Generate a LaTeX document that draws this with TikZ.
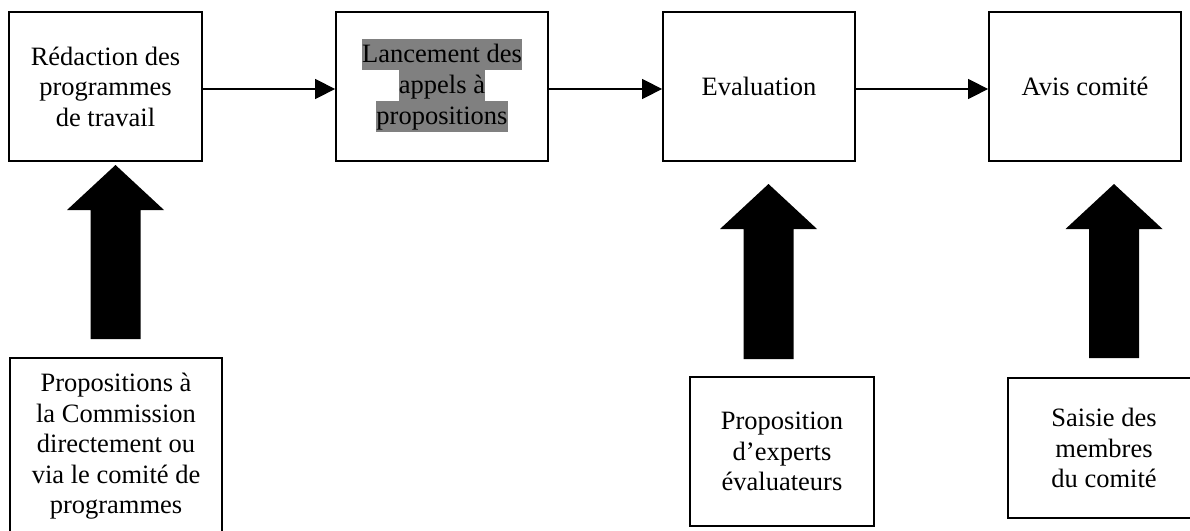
\documentclass[tikz,border=0pt]{standalone}
\usepackage{fontspec}
\setmainfont{Liberation Serif}
\usetikzlibrary{arrows.meta}
\definecolor{hl}{HTML}{808080}
\newcommand\hlstrut{\rule[-7.5pt]{0pt}{31pt}}
\newcommand\hlline[1]{{\setlength\fboxsep{0pt}\colorbox{hl}{\hlstrut #1}}}
\newcommand\BlockUp[3]{%
  \fill[black] (#1-25,#3) -- (#1-25,#2+45) -- (#1-48.5,#2+45) -- (#1,#2)
    -- (#1+48.5,#2+45) -- (#1+25,#2+45) -- (#1+25,#3) -- cycle;}
\begin{document}
\begin{tikzpicture}[x=1pt,y=-1pt,
  txt/.style={font=\fontsize{26.5}{30.5}\selectfont, align=center, text=black},
  box/.style={draw=black, line width=1.8pt, rectangle, inner sep=0pt, txt},
  conn/.style={draw=black, line width=1.4pt, -{Triangle[length=20pt,width=20pt]}}]
\useasboundingbox (0,0) rectangle (1190,530);
\clip (0,0) rectangle (1190,530);
\fill[white] (0,0) rectangle (1190,530);
% top row
\node[box, minimum width=193pt, minimum height=149pt] (b1) at (105.5,86.5)
  {Rédaction des\\programmes\\de travail};
\node[box, minimum width=212pt, minimum height=149pt] (b2) at (442,86.5) {};
\node[txt, font=\fontsize{26.5}{31}\selectfont, inner sep=0pt] (b2t) at (442,85.5)
  {\hlline{Lancement des}\\\hlline{appels à}\\\hlline{propositions}};
\node[box, minimum width=192pt, minimum height=149pt] (b3) at (759,86.5) {Evaluation};
\node[box, minimum width=192pt, minimum height=149pt] (b4) at (1085,86.5) {Avis comité};
% connectors
\draw[conn] ([yshift=-2.5pt]b1.east) -- ([yshift=-2.5pt]b2.west);
\draw[conn] ([yshift=-2.5pt]b2.east) -- ([yshift=-2.5pt]b3.west);
\draw[conn] ([yshift=-2.5pt]b3.east) -- ([yshift=-2.5pt]b4.west);
% bottom boxes
\node[box, line width=1.5pt, minimum width=212pt, minimum height=177pt] (c1) at (116,446.5)
  {Propositions à\\la Commission\\directement ou\\via le comité de\\programmes};
\node[box, line width=1.5pt, minimum width=184pt, minimum height=149pt] (c2) at (782,451.5)
  {Proposition\\d’experts\\évaluateurs};
\node[box, line width=1.5pt, minimum width=192pt, minimum height=140pt] (c3) at (1104,448)
  {Saisie des\\membres\\du comité};
% block arrows (from bottom boxes up towards top boxes)
\BlockUp{115.5}{165}{339}
\BlockUp{768.5}{184}{359}
\BlockUp{1114}{184}{358}
\end{tikzpicture}
\end{document}
